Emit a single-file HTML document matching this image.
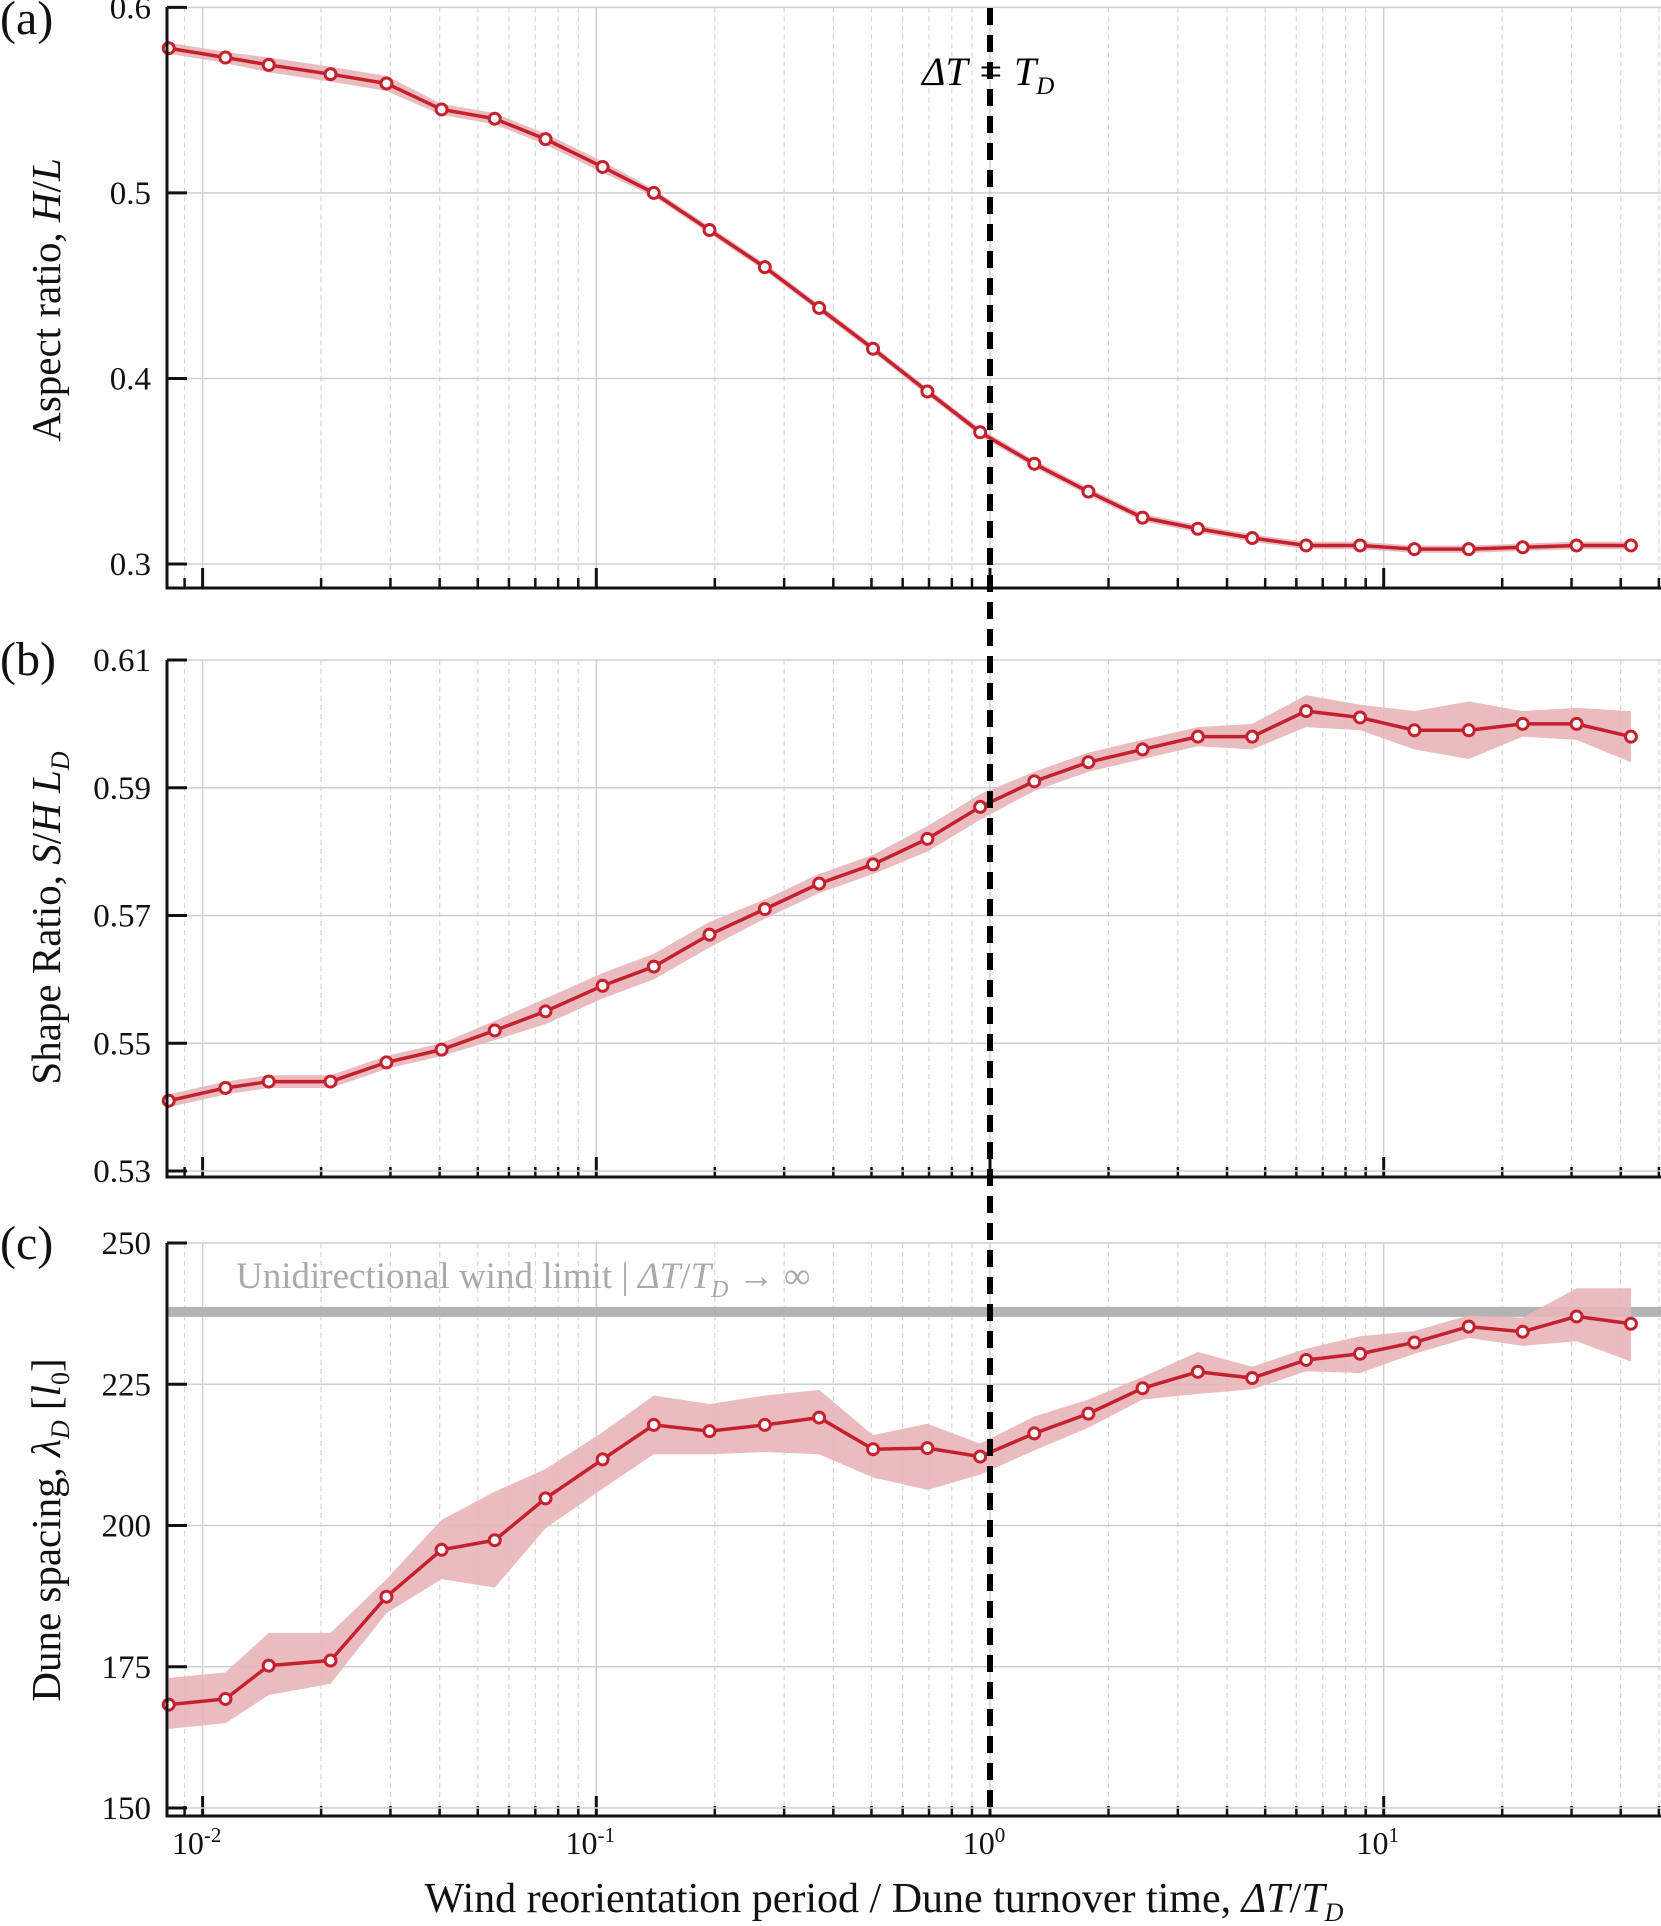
<!DOCTYPE html>
<html><head><meta charset="utf-8"><style>
html,body{margin:0;padding:0;background:#fff}
svg{display:block;font-family:"Liberation Serif",serif}
</style></head><body>
<svg id="chart" width="1661" height="1926" viewBox="0 0 1661 1926" xmlns="http://www.w3.org/2000/svg"></svg>
<script>
const logX=[-2.086,-1.942,-1.832,-1.675,-1.533,-1.393,-1.258,-1.129,-0.984,-0.854,-0.7125,-0.572,-0.434,-0.297,-0.159,-0.025,0.1125,0.25,0.3875,0.528,0.666,0.803,0.94,1.078,1.216,1.353,1.49,1.628];
const aVals=[0.578,0.573,0.569,0.564,0.559,0.545,0.540,0.529,0.514,0.500,0.480,0.460,0.438,0.416,0.393,0.371,0.354,0.339,0.325,0.319,0.314,0.310,0.310,0.308,0.308,0.309,0.310,0.310];
const aErr=[0.003,0.003,0.004,0.004,0.004,0.003,0.003,0.003,0.003,0.002,0.002,0.002,0.002,0.002,0.002,0.002,0.002,0.002,0.002,0.002,0.002,0.002,0.002,0.002,0.002,0.002,0.002,0.002];
const bVals=[0.541,0.543,0.544,0.544,0.547,0.549,0.552,0.555,0.559,0.562,0.567,0.571,0.575,0.578,0.582,0.587,0.591,0.594,0.596,0.598,0.598,0.602,0.601,0.599,0.599,0.600,0.600,0.598];
const bErr=[0.001,0.001,0.001,0.001,0.001,0.001,0.0015,0.002,0.002,0.002,0.002,0.0015,0.0015,0.0015,0.002,0.002,0.0015,0.0015,0.0015,0.0015,0.002,0.0025,0.002,0.003,0.0045,0.002,0.0025,0.004];
const cVals=[168.3,169.3,175.2,176.1,187.4,195.7,197.4,204.8,211.7,217.8,216.7,217.8,219.1,213.5,213.7,212.2,216.3,219.8,224.3,227.2,226.1,229.3,230.4,232.4,235.2,234.3,237.0,235.7];
const cHi=[173,174,181,181,190.5,201,206,210,216.5,223,221.5,223,224,216,218,214.5,219.3,222.3,226.3,230.7,228.1,231.3,233.5,234.4,237.2,236.8,242,242];
const cLo=[164,165,170,172,184.5,190.5,189,199.5,206.5,212.6,212.6,213,212.6,208.5,206.3,209,213.3,217.3,222.3,223.3,224.1,227.3,227,230.4,233.2,231.8,232.6,229];
const yTicksA=[0.3,0.4,0.5,0.6], yTicksB=[0.53,0.55,0.57,0.59,0.61], yTicksC=[150,175,200,225,250];
const xDecades=[-2,-1,0,1];
const xTickLabels=["-2","-1","0","1"];
const yLabA=["0.3","0.4","0.5","0.6"], yLabB=["0.53","0.55","0.57","0.59","0.61"], yLabC=["150","175","200","225","250"];
const limitValue=237.8;

const NS="http://www.w3.org/2000/svg";
const svg=document.getElementById('chart');
const L=167,R=1661;
const X=lg=>990+lg*393.7;
function el(tag,at,parent){const e=document.createElementNS(NS,tag);for(const k in at)e.setAttribute(k,at[k]);(parent||svg).appendChild(e);return e;}
const red="#c4212e";

function panel(id,ymin,ymax,ytop,ybot,axisBot,ticks,labs){
  const g=el('g',{});
  
  
  const Y=v=>ybot+(v-ymin)/(ymax-ymin)*(ytop-ybot);
  for(let d=-3;d<=1;d++){for(let m=2;m<=9;m++){const x=X(d+Math.log10(m));if(x<L||x>R)continue;
    const ln=el('line',{x1:x,x2:x,y1:ytop,y2:axisBot,stroke:"#d6d6d6","stroke-width":1.2,"stroke-dasharray":"5,4"},g);
    
    const t=el('line',{x1:x,x2:x,y1:axisBot,y2:axisBot-10,stroke:"#111","stroke-width":2.5},g);
    }}
  xDecades.forEach(d=>{const x=X(d);
    const ln=el('line',{x1:x,x2:x,y1:ytop,y2:axisBot,stroke:"#cfcfcf","stroke-width":1.5},g);
    
    const t=el('line',{x1:x,x2:x,y1:axisBot,y2:axisBot-20,stroke:"#111","stroke-width":3},g);
    });
  ticks.forEach((v,i)=>{const y=Y(v);
    const ln=el('line',{x1:L,x2:R,y1:y,y2:y,stroke:"#cfcfcf","stroke-width":1.5},g);
    
    const t=el('line',{x1:L,x2:L+20,y1:y,y2:y,stroke:"#111","stroke-width":3},g);
    
    const tx=el('text',{x:151,y:y+11,"text-anchor":"end","font-size":33,fill:"#111"},g);tx.textContent=labs[i];
    });
  return {g,Y};
}
function series(p,vals,lo,hi,name){
  const {g,Y}=p;
  let d='';logX.forEach((l,i)=>{d+=(i?'L':'M')+X(l)+','+Y(hi[i]);});
  for(let i=logX.length-1;i>=0;i--)d+='L'+X(logX[i])+','+Y(lo[i]);
  const band=el('path',{d:d+'Z',fill:"#e8b4b8",opacity:0.9},g);
  
  const line=el('polyline',{points:logX.map((l,i)=>X(l)+','+Y(vals[i])).join(' '),fill:"none",stroke:red,"stroke-width":3.5},g);
  
  logX.forEach((l,i)=>{const c=el('circle',{cx:X(l),cy:Y(vals[i]),r:5.5,fill:"#fff",stroke:red,"stroke-width":3},g);
    });
}
function axes(g,ytop,axisBot){
  const a=el('line',{x1:L,x2:L,y1:ytop,y2:axisBot,stroke:"#111","stroke-width":3},g);
  
  const b=el('line',{x1:L-1.5,x2:R,y1:axisBot,y2:axisBot,stroke:"#111","stroke-width":3},g);
  
}
const pa=panel('a',0.3,0.6,7.4,564,588,yTicksA,yLabA);
series(pa,aVals,aVals.map((v,i)=>v-aErr[i]),aVals.map((v,i)=>v+aErr[i]),'aspect-ratio');
axes(pa.g,7,588);
const pb=panel('b',0.53,0.61,660,1171,1177,yTicksB,yLabB);
series(pb,bVals,bVals.map((v,i)=>v-bErr[i]),bVals.map((v,i)=>v+bErr[i]),'shape-ratio');
axes(pb.g,660,1177);
const pc=panel('c',150,250,1243,1808,1816,yTicksC,yLabC);
const ly=pc.Y(limitValue);
const lim=el('line',{x1:L,x2:R,y1:ly,y2:ly,stroke:"#b3b3b3","stroke-width":10},pc.g);

series(pc,cVals,cLo,cHi,'dune-spacing');
axes(pc.g,1243,1816);
xDecades.forEach((d,i)=>{const t=el('text',{x:X(d)-6,y:1854,"text-anchor":"middle","font-size":32,fill:"#111"});
  
  t.appendChild(document.createTextNode('10'));
  const s=el('tspan',{dy:-12,"font-size":21},t);s.textContent=xTickLabels[i];});
const vl=el('line',{x1:X(0),x2:X(0),y1:8,y2:1816,stroke:"#000","stroke-width":6,"stroke-dasharray":"17,10"});

</script>
<svg style="position:absolute;left:0;top:0" width="1661" height="1926">
<g font-family="Liberation Serif, serif" fill="#111">
<text x="0" y="34" font-size="48">(a)</text>
<text x="0" y="675" font-size="48">(b)</text>
<text x="0" y="1259" font-size="48">(c)</text>
<text transform="translate(60,300) rotate(-90)" text-anchor="middle" font-size="41">Aspect ratio, <tspan font-style="italic">H</tspan>/<tspan font-style="italic">L</tspan></text>
<text transform="translate(60,918) rotate(-90)" text-anchor="middle" font-size="41">Shape Ratio, <tspan font-style="italic">S</tspan>/<tspan font-style="italic">H L</tspan><tspan font-style="italic" font-size="26" dy="9">D</tspan></text>
<text transform="translate(60,1530) rotate(-90)" text-anchor="middle" font-size="41">Dune spacing, <tspan font-style="italic">λ</tspan><tspan font-style="italic" font-size="26" dy="9">D</tspan><tspan dy="-9"> [</tspan><tspan font-style="italic">l</tspan><tspan font-size="26" dy="9">0</tspan><tspan dy="-9">]</tspan></text>
<text x="922" y="85" font-size="40" font-style="italic" fill="#000">ΔT = T<tspan font-size="25" dy="9">D</tspan></text>
<text x="236" y="1288" font-size="37" fill="#aaa">Unidirectional wind limit | <tspan font-style="italic">ΔT</tspan>/<tspan font-style="italic">T</tspan><tspan font-style="italic" font-size="24" dy="9">D</tspan><tspan dy="-9"> → ∞</tspan></text>
<text x="884" y="1912" text-anchor="middle" font-size="42">Wind reorientation period / Dune turnover time, <tspan font-style="italic">ΔT</tspan>/<tspan font-style="italic">T</tspan><tspan font-style="italic" font-size="26" dy="9">D</tspan></text>
</g></svg>
</body></html>
